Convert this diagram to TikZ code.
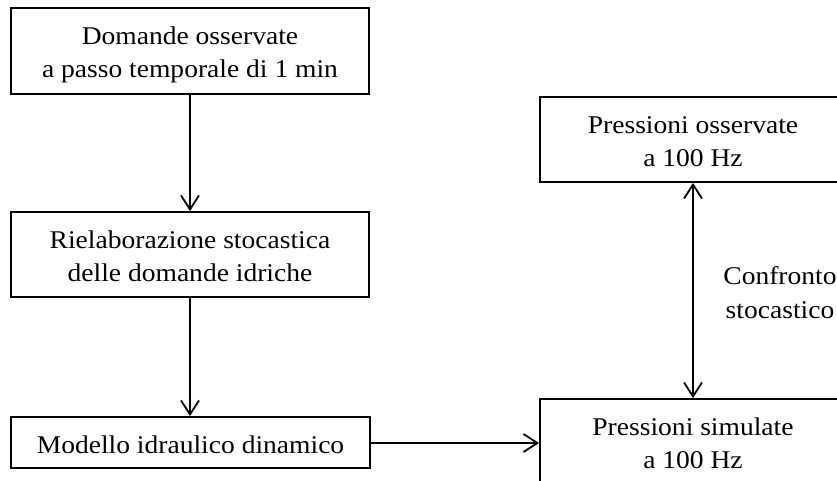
\documentclass[tikz,border=0pt]{standalone}
\usepackage{fontspec}
\setmainfont[FakeStretch=1.08]{Liberation Serif}
\usetikzlibrary{arrows.meta}
\newcommand{\tstr}{\rule{0pt}{27pt}}
\newcommand{\bstr}{\rule[-6pt]{0pt}{6pt}}
\begin{document}
\begin{tikzpicture}[x=1pt,y=-1pt,
  box/.style={draw=black, line width=1.8pt, rectangle, inner sep=0pt, align=center,
    font=\fontsize{25.5}{33}\selectfont},
  lbl/.style={inner sep=0pt, align=center, font=\fontsize{25.5}{34}\selectfont},
  conn/.style={line width=1.8pt, -{Straight Barb[length=14pt,width=18pt,line width=1.8pt]}},
  dconn/.style={line width=1.8pt, {Straight Barb[length=14pt,width=18pt,line width=1.8pt]}-{Straight Barb[length=14pt,width=18pt,line width=1.8pt]}}]
\useasboundingbox (0,0) rectangle (837,481);
\clip (0,0) rectangle (837,481);
\fill[white] (0,0) rectangle (837,481);
\node[box, minimum width=358pt, minimum height=86pt] (A) at (190,51)
  {\tstr Domande osservate\\a passo temporale di 1 min\bstr};
\node[box, minimum width=358pt, minimum height=85pt] (B) at (190,254.5)
  {\tstr Rielaborazione stocastica\\delle domande idriche\bstr};
\node[box, minimum width=359pt, minimum height=51pt] (C) at (190.5,442.5)
  {\tstr Modello idraulico dinamico\bstr};
\node[box, minimum width=306pt, minimum height=85pt] (D) at (693,139.5)
  {\tstr Pressioni osservate\\a 100 Hz\bstr};
\node[box, minimum width=306pt, minimum height=85pt] (E) at (693,441.5)
  {\tstr Pressioni simulate\\a 100 Hz\bstr};
\node[lbl] (L) at (780,290.5) {\tstr Confronto\\stocastico\bstr};
\draw[conn] (A.south -| 190,0) -- (B.north -| 190,0);
\draw[conn] (B.south -| 190,0) -- (C.north -| 190,0);
\draw[conn] (C.east |- 0,443) -- (E.west |- 0,443);
\draw[dconn] (D.south) -- (E.north);
\end{tikzpicture}
\end{document}
